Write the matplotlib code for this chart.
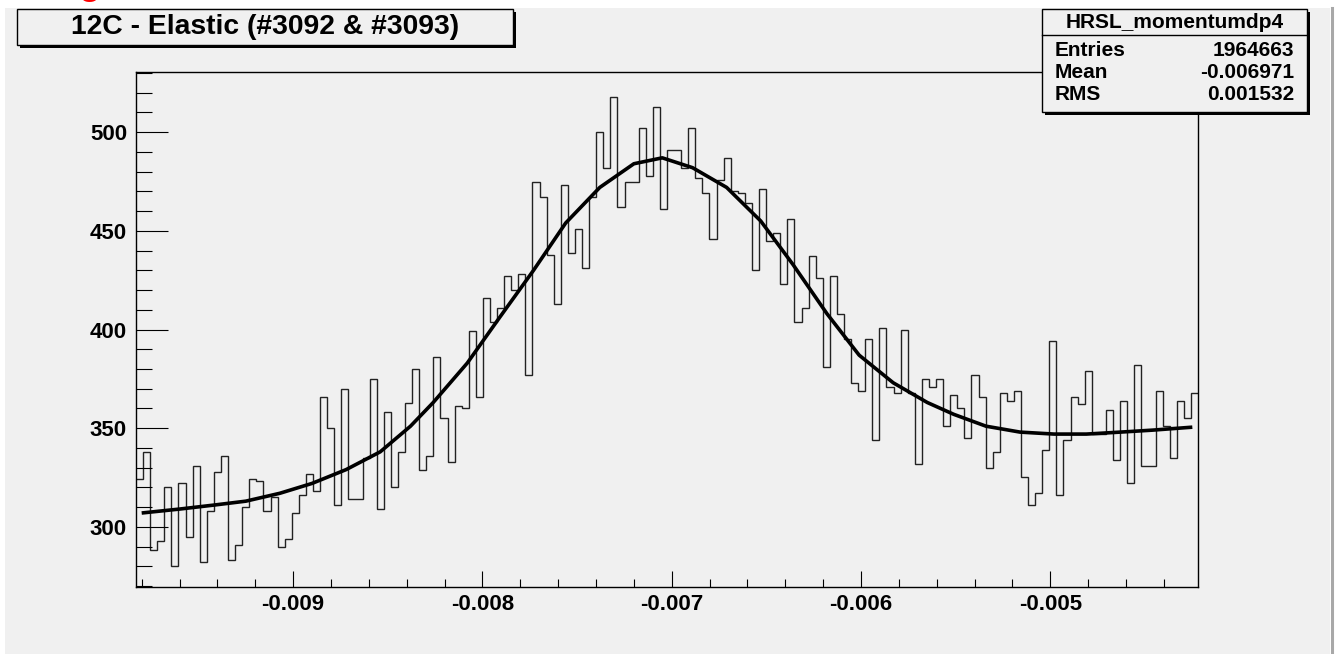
import numpy as np
import matplotlib.pyplot as plt
from matplotlib.patches import Rectangle
from matplotlib.lines import Line2D
from matplotlib.ticker import MultipleLocator, FormatStrFormatter

plt.rcParams['font.family'] = ['Liberation Sans', 'DejaVu Sans']

# histogram contents, 150 bins
counts = [324, 338, 288, 293, 320, 280, 322, 295, 331, 282,
          308, 328, 336, 283, 291, 310, 324, 323, 308, 315,
          290, 294, 307, 316, 327, 318, 366, 350, 311, 370,
          314, 314, 335, 375, 309, 358, 320, 338, 363, 380,
          329, 336, 386, 355, 333, 361, 360, 399, 366, 416,
          404, 411, 427, 420, 428, 377, 475, 467, 438, 413,
          473, 439, 451, 431, 467, 500, 482, 518, 462, 475,
          475, 502, 478, 513, 461, 491, 491, 482, 502, 477,
          469, 446, 476, 487, 470, 469, 464, 430, 471, 445,
          449, 423, 456, 404, 411, 437, 426, 381, 427, 408,
          395, 373, 369, 395, 344, 401, 371, 368, 400, 368,
          332, 375, 371, 375, 351, 367, 360, 345, 377, 366,
          330, 338, 368, 364, 369, 325, 311, 317, 339, 394,
          316, 344, 366, 362, 379, 347, 347, 359, 334, 364,
          322, 382, 331, 331, 369, 351, 335, 364, 355, 368]
x_lo, x_hi = -0.00983, -0.00422

# fit curve, points
fit_x = [-0.00980, -0.00960, -0.00942, -0.00925, -0.00907, -0.00890, -0.00872,
         -0.00854, -0.00838, -0.00826, -0.00808, -0.00791, -0.00773, -0.00756,
         -0.00738, -0.00720, -0.00705, -0.00689, -0.00671, -0.00653, -0.00636,
         -0.00618, -0.00601, -0.00583, -0.00565, -0.00551, -0.00534, -0.00516,
         -0.00498, -0.00481, -0.00463, -0.00446, -0.00425]
fit_y = [307, 309, 311, 313, 317, 322, 329, 338, 351, 363, 383, 406, 430, 454,
         472, 484, 487, 482, 472, 455, 433, 408, 387, 373, 363, 357, 351, 348,
         347, 347, 348, 349, 350.5]

title = '12C - Elastic (#3092 & #3093)'
stat_name = 'HRSL_momentumdp4'
stat_labels = ['Entries', 'Mean', 'RMS']
stat_values = ['1964663', '-0.006971', '0.001532']

W, H = 1335, 654
bg = '#f0f0f0'


def fx(px):
    return px / W


def fy(py):
    return 1 - py / H


fig = plt.figure(figsize=(W / 100, H / 100), dpi=100)
fig.patch.set_facecolor('white')

# canvas
fig.add_artist(Rectangle((fx(5), 0), fx(1330) - fx(5), fy(8), transform=fig.transFigure,
                         facecolor=bg, edgecolor='none', zorder=-5))
fig.add_artist(Line2D([fx(1331.5), fx(1331.5)], [0, fy(8)], transform=fig.transFigure,
                      color='#a8a8a8', lw=2.2, zorder=-4))

ax = fig.add_axes([fx(136), fy(587), fx(1198) - fx(136), fy(72) - fy(587)])
ax.set_facecolor(bg)
ax.set_zorder(0)

edges = np.linspace(x_lo, x_hi, len(counts) + 1)
ax.stairs(counts, edges, baseline=None, color='#222222', lw=1.0)
ax.plot(fit_x, fit_y, color='black', lw=2.6, solid_capstyle='butt',
        solid_joinstyle='round')

ax.set_xlim(x_lo, x_hi)
ax.set_ylim(269.5, 530.5)

for s in ax.spines.values():
    s.set_linewidth(1.0)
    s.set_color('black')

ax.xaxis.set_major_locator(MultipleLocator(0.001))
ax.xaxis.set_minor_locator(MultipleLocator(0.0002))
ax.xaxis.set_major_formatter(FormatStrFormatter('%.3f'))
ax.yaxis.set_major_locator(MultipleLocator(50))
ax.yaxis.set_minor_locator(MultipleLocator(10))
ax.yaxis.set_major_formatter(FormatStrFormatter('%d'))

ax.tick_params(axis='x', which='major', direction='in', length=11.2, width=0.8, pad=5,
               labelsize=16)
ax.tick_params(axis='x', which='minor', direction='in', length=5.6, width=0.8)
ax.tick_params(axis='y', which='major', direction='in', length=23, width=0.8, pad=6.5,
               labelsize=16)
ax.tick_params(axis='y', which='minor', direction='in', length=11.5, width=0.8)
for lab in ax.get_xticklabels() + ax.get_yticklabels():
    lab.set_fontweight('bold')


def pave(x0, y0, x1, y1):
    fig.add_artist(Rectangle((fx(x0 + 3), fy(y1 + 3)), fx(x1) - fx(x0), fy(y0) - fy(y1),
                             transform=fig.transFigure, facecolor='black',
                             edgecolor='none', zorder=2))
    fig.add_artist(Rectangle((fx(x0), fy(y1)), fx(x1) - fx(x0), fy(y0) - fy(y1),
                             transform=fig.transFigure, facecolor=bg,
                             edgecolor='black', lw=1.0, zorder=2.1))


# title box
pave(17, 9, 513, 45)
fig.text(fx(265), fy(27.5), title, ha='center', va='center', fontsize=20.3,
         fontweight='bold', zorder=3)

# stats box
pave(1042, 9, 1307, 112)
fig.add_artist(Line2D([fx(1042), fx(1307)], [fy(35), fy(35)], transform=fig.transFigure,
                      color='black', lw=1.0, zorder=2.2))
fig.text(fx(1174.5), fy(22), stat_name, ha='center', va='center', fontsize=15,
         fontweight='bold', zorder=3)
for i, (lab, val) in enumerate(zip(stat_labels, stat_values)):
    yy = 51 + i * 22
    fig.text(fx(1055), fy(yy), lab, ha='left', va='center', fontsize=15,
             fontweight='bold', zorder=3)
    fig.text(fx(1294), fy(yy), val, ha='right', va='center', fontsize=15,
             fontweight='bold', zorder=3)

# clipped red heading letter at the very top
fig.text(fx(78), 1 + 6 / H, 'g', color='red', fontsize=26, fontweight='bold',
         ha='left', va='baseline')

fig.savefig('out.png', dpi=100)
